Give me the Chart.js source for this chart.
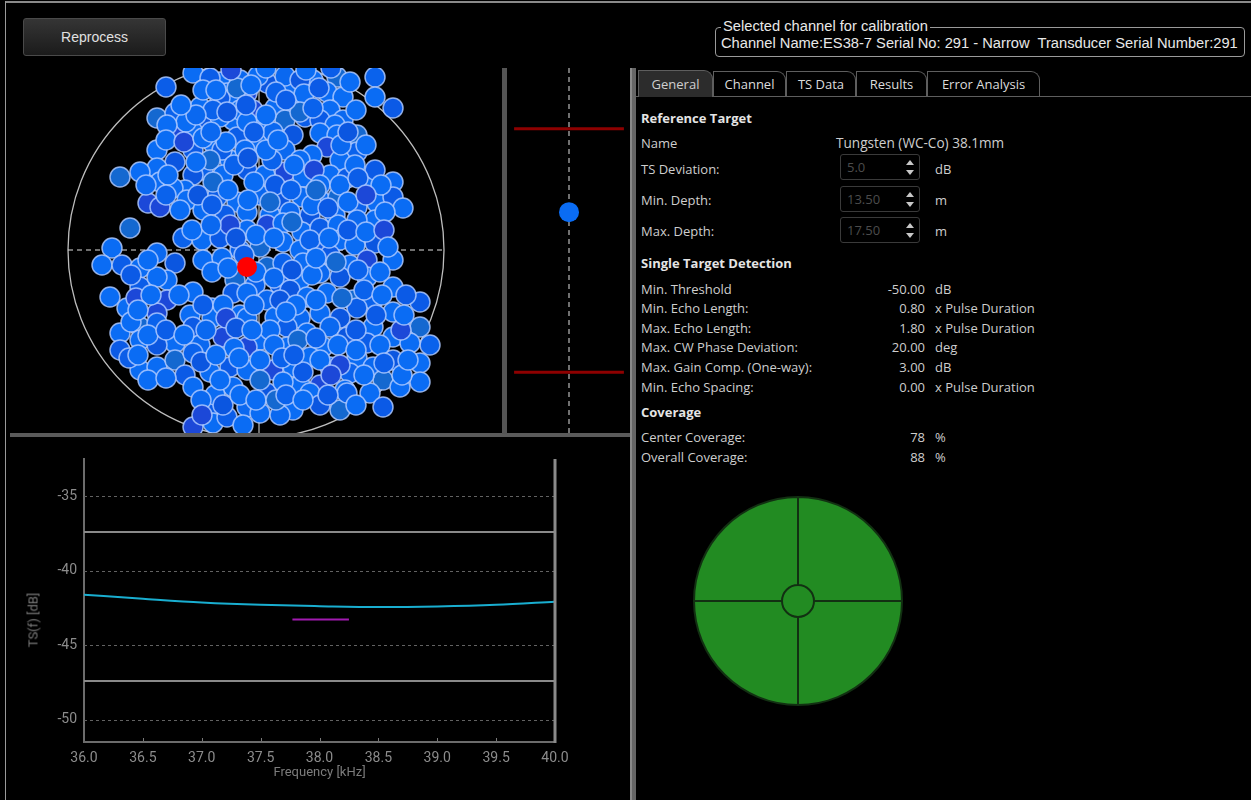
<!DOCTYPE html>
<html><head><meta charset="utf-8">
<script src="https://cdn.jsdelivr.net/npm/chart.js@4.4.1/dist/chart.umd.min.js"></script>
<style>
html,body{margin:0;padding:0;background:#000;}
body{width:1251px;height:800px;position:relative;overflow:hidden;font-family:"Open Sans",sans-serif;color:#d0d0d0;}
.abs{position:absolute;}
canvas{position:absolute;display:block;}
#topline{left:5px;top:1px;width:1246px;height:2px;background:#8a8a8a;}
#leftline{left:5px;top:1px;width:1px;height:799px;background:#9a9a9a;}
#btn{left:23px;top:18px;width:143px;height:38px;box-sizing:border-box;border:1px solid #4a4a4a;border-radius:3px;background:linear-gradient(#353535,#1b1b1b);color:#e0e0e0;font:14px "Liberation Sans",Arial,sans-serif;display:flex;align-items:center;justify-content:center;}
.bar{position:absolute;background:#5c5c5c;}
#grp{left:715px;top:27px;width:530px;height:30px;box-sizing:border-box;border:1px solid #9a9a9a;border-radius:4px;}
.gtxt{position:absolute;font:14.7px "Liberation Sans",Arial,sans-serif;color:#e8e8e8;white-space:pre;line-height:16px;}
.tab{position:absolute;top:71px;height:25px;box-sizing:border-box;border:1px solid #5e5e5e;border-bottom:none;border-radius:0 9px 0 0;font:13px "Open Sans",sans-serif;color:#dcdcdc;display:flex;align-items:center;justify-content:center;background:#000;}
.tab.sel{top:70px;height:27px;background:#2c2c2c;color:#cfcfcf;}
.t{position:absolute;font:13px "Open Sans",sans-serif;line-height:18px;white-space:nowrap;color:#cecece;}
.h{font-weight:bold;color:#e4e4e4;}
.val{right:326px;text-align:right;}
.unit{left:935px;}
.lbl{left:641px;}
.spin{position:absolute;left:840px;width:80px;height:26px;box-sizing:border-box;border:1px solid #3a3a3a;border-radius:3px;color:#4c4c4c;font:13px "Open Sans",sans-serif;line-height:24px;padding-left:6px;}
.up,.dn{position:absolute;left:65px;width:0;height:0;border-left:4px solid transparent;border-right:4px solid transparent;}
.up{top:5px;border-bottom:5px solid #c8c8c8;}
.dn{top:15px;border-top:5px solid #c8c8c8;}
#ytitle{left:33px;top:620px;transform:translate(-50%,-50%) rotate(-90deg);font:13px Roboto,sans-serif;color:#7a7a7a;white-space:nowrap;}
</style>
</head><body>

<div class="abs" id="topline"></div>
<div class="abs" id="leftline"></div>
<div class="abs" id="btn">Reprocess</div>

<!-- panel dividers -->
<div class="bar" style="left:10px;top:433px;width:622px;height:4px;background:#5a5a5a;"></div>
<div class="bar" style="left:502px;top:68px;width:5px;height:366px;background:#555;"></div>
<div class="bar" style="left:630px;top:68px;width:6px;height:732px;background:#666;"></div>
<div class="bar" style="left:630px;top:68px;width:2px;height:732px;background:#8a8a8a;"></div>

<!-- channel group box -->
<div class="abs" id="grp"></div>
<div class="gtxt" style="left:721px;top:18px;background:#000;padding:0 2px;">Selected channel for calibration</div>
<div class="gtxt" style="left:721px;top:35px;">Channel Name:ES38-7 Serial No: 291 - Narrow  Transducer Serial Number:291</div>

<!-- tabs -->
<div class="abs" style="left:636px;top:96px;width:615px;height:1px;background:#5e5e5e;"></div>
<div class="tab sel" style="left:638px;width:75px;">General</div>
<div class="tab" style="left:713px;width:73px;">Channel</div>
<div class="tab" style="left:786px;width:70px;">TS Data</div>
<div class="tab" style="left:856px;width:71px;">Results</div>
<div class="tab" style="left:927px;width:113px;">Error Analysis</div>

<!-- General tab content -->
<div class="t h lbl" style="top:109px;">Reference Target</div>
<div class="t lbl" style="top:134px;">Name</div>
<div class="t" style="left:836px;top:134px;font-size:13.6px;">Tungsten (WC-Co) 38.1mm</div>
<div class="t lbl" style="top:160px;">TS Deviation:</div>
<div class="spin" style="top:154px;">5.0<div class="up"></div><div class="dn"></div></div>
<div class="t unit" style="top:160px;">dB</div>
<div class="t lbl" style="top:191px;">Min. Depth:</div>
<div class="spin" style="top:186px;">13.50<div class="up"></div><div class="dn"></div></div>
<div class="t unit" style="top:191px;">m</div>
<div class="t lbl" style="top:222px;">Max. Depth:</div>
<div class="spin" style="top:217px;">17.50<div class="up"></div><div class="dn"></div></div>
<div class="t unit" style="top:222px;">m</div>

<div class="t h lbl" style="top:254px;">Single Target Detection</div>
<div class="t lbl" style="top:280px;">Min. Threshold</div><div class="t val" style="top:280px;">-50.00</div><div class="t unit" style="top:280px;">dB</div>
<div class="t lbl" style="top:299px;">Min. Echo Length:</div><div class="t val" style="top:299px;">0.80</div><div class="t unit" style="top:299px;">x Pulse Duration</div>
<div class="t lbl" style="top:319px;">Max. Echo Length:</div><div class="t val" style="top:319px;">1.80</div><div class="t unit" style="top:319px;">x Pulse Duration</div>
<div class="t lbl" style="top:338px;">Max. CW Phase Deviation:</div><div class="t val" style="top:338px;">20.00</div><div class="t unit" style="top:338px;">deg</div>
<div class="t lbl" style="top:358px;">Max. Gain Comp. (One-way):</div><div class="t val" style="top:358px;">3.00</div><div class="t unit" style="top:358px;">dB</div>
<div class="t lbl" style="top:378px;">Min. Echo Spacing:</div><div class="t val" style="top:378px;">0.00</div><div class="t unit" style="top:378px;">x Pulse Duration</div>

<div class="t h lbl" style="top:403px;">Coverage</div>
<div class="t lbl" style="top:428px;">Center Coverage:</div><div class="t val" style="top:428px;">78</div><div class="t unit" style="top:428px;">%</div>
<div class="t lbl" style="top:448px;">Overall Coverage:</div><div class="t val" style="top:448px;">88</div><div class="t unit" style="top:448px;">%</div>

<canvas id="scatter" width="490" height="365" style="left:10px;top:68px;"></canvas>
<canvas id="depth" width="122" height="365" style="left:508px;top:68px;"></canvas>
<canvas id="tsf" width="620" height="360" style="left:10px;top:440px;"></canvas>
<canvas id="cover" width="210" height="210" style="left:693px;top:496px;"></canvas>
<div class="abs" id="ytitle">TS(f) [dB]</div>

<script>
// ===================== DATA =====================
// TS(f) chart
const freqKHz   = [36.0, 36.5, 37.0, 37.5, 38.0, 38.5, 39.0, 39.5, 40.0];
const tsCurve   = [-41.61, -41.88, -42.13, -42.29, -42.38, -42.44, -42.40, -42.29, -42.08];
const measFreq  = [37.77, 38.25];
const measTS    = [-43.27, -43.27];
const tsLimits  = [-37.4, -47.4];           // theoretical TS ± TS deviation
const xTicks    = [36.0, 36.5, 37.0, 37.5, 38.0, 38.5, 39.0, 39.5, 40.0];
const yTicks    = [-35, -40, -45, -50];

// Beam position of detected targets (alongship / athwartship, arbitrary angle units)
const alongship = [
 -63,-90,-36,-16,11,37,57,81,119,119,137,-29,-9,71,87,-46,2,29,44,94,-26,
 -99,-81,-56,-36,-23,-3,19,37,49,74,87,-49,-36,6,29,-43,-16,64,79,
 -81,-63,-43,-19,1,17,37,64,81,101,101,-99,-63,-26,71,56,-11,-34,84,29,
 -81,-99,-116,-136,-53,-33,-9,9,29,47,74,91,111,137,-63,-96,-71,-46,16,44,119,99,
 -108,-83,-69,-39,-19,4,24,46,64,82,101,121,137,147,-96,-53,-9,-31,14,34,54,79,119,
 -126,-73,-54,-36,-9,11,27,46,64,82,101,119,84,27,4,-16,44,62,99,-26,
 -144,-154,-134,-116,-99,-81,-53,-34,11,27,47,74,94,111,137,-89,-116,-99,64,84,111,137,-21,-1,44,24,
 -146,-89,-63,-44,-23,-9,11,34,51,71,97,117,137,164,-129,-99,19,64,101,-16,44,84,-66,
 -136,-116,-99,-81,-63,-44,-33,-9,4,31,51,74,91,117,137,164,174,154,-136,-116,-9,31,67,111,14,-56,-99,
 -116,-99,-81,-63,-46,-26,-9,17,37,54,74,101,117,137,164,164,127,94,4,-71,44,64,89,
 -63,-46,-23,-9,11,37,54,84,91,114,127,144,-63,-43,4,-29,-13,24,64,-41,
 -53,-19,20,48,63,-40,-25,10,50,75,
 -70,-60,-29,-9,10,44,57,-89,-10,
 -90,-72,-53,-30,-2,10,85,92,110,
 -88,-43,-22,-2,19,38,58,64,84,102,125,-110,
 -58,-28,-8,14,35,56,72,92,110,129,-76,-44,
 -64,-45,-20,0,18,36,54,73,92,110,128,132,
 -44,-12,0,18,36,56,60,80,102,124,-125,-108,
 -120,-105,-77,-53,-33,-2,24,40,60,86,108,126,150,30,-30,
 -125,-108,-90,-72,-50,-20,-22,18,42,60,82,100,124,145,100,-4,
 -127,-108,-90,-55,-36,-17,4,26,27,47,64,84,108,146,128,152,
 -55,-33,-16,0,20,30,47,72,100,-54,
 -75,-5,30,100,-45,-8,22,-60,60,-90,-118,120,148,75,-118,-28,38,-40
];
const athwartship = [
 177,163,168,170,167,163,170,173,173,153,142,157,157,158,153,172,174,174,170,168,150,
 132,137,143,152,130,140,142,143,133,140,130,130,133,125,130,140,140,130,125,
 115,118,107,113,107,118,115,117,115,115,98,100,100,90,103,95,100,100,90,100,
 88,82,78,73,80,75,80,75,78,73,75,72,68,68,75,68,60,90,90,90,80,85,
 47,62,50,53,48,55,50,53,50,53,43,47,53,42,43,40,38,35,35,38,35,35,30,
 22,12,10,12,20,25,27,18,22,25,30,7,10,8,3,0,0,0,5,25,
 2,-15,-15,-18,-3,-13,-10,-8,-17,-13,-13,-5,-15,-10,-10,-30,-37,-27,-23,-27,-27,-37,-30,-35,-30,-35,
 -47,-50,-42,-58,-43,-43,-50,-40,-47,-43,-50,-50,-62,-52,-58,-63,-67,-63,-58,-65,-68,-68,-65,
 -83,-77,-73,-93,-77,-68,-87,-68,-90,-77,-83,-77,-87,-77,-87,-77,-95,-93,-100,-90,-97,-97,-97,-93,-80,-95,-95,
 -120,-117,-110,-103,-122,-117,-120,-120,-117,-107,-117,-108,-117,-110,-113,-132,-130,-123,-110,-125,-135,-135,-140,
 -137,-157,-137,-157,-143,-160,-143,-160,-143,-143,-157,-137,-177,-173,-163,-167,-175,-165,-155,-145,
 160,162,158,156,162,160,180,182,180,182,
 128,135,138,128,135,138,142,125,145,
 110,108,112,108,118,100,105,118,105,
 75,68,85,68,65,85,80,65,65,72,65,65,
 55,60,50,48,60,45,42,48,55,38,40,45,
 20,25,12,15,12,28,10,12,20,18,20,3,
 -22,-5,-22,-28,-20,-25,-8,-12,-20,-22,-25,-10,
 -48,-45,-45,-55,-55,-55,-50,-55,-50,-48,-40,-45,-45,-62,-68,
 -72,-85,-80,-85,-80,-78,-98,-95,-90,-88,-95,-80,-95,-80,-100,-80,
 -108,-130,-128,-112,-130,-108,-130,-108,-132,-122,-110,-115,-125,-125,-113,-110,
 -150,-155,-145,-150,-150,-145,-150,-145,-155,-165,
 145,165,150,140,118,92,110,88,60,55,-60,-65,-65,-125,-105,-18,-105,-105
];
const selectedAlong = [-9];
const selectedAthwart = [-17];
const beamEdge = 188;                         // beam circle radius, same units

// Depth panel
const depthLimits = [13.5, 17.5];
const targetDepth = [14.87];

// Coverage
const quadrantNames = ['Fore-Stbd', 'Aft-Stbd', 'Aft-Port', 'Fore-Port'];
const quadrantShare = [25, 25, 25, 25];
const centerShare = [100];

// ===================== CHARTS =====================
const base = {responsive:false, animation:false, events:[],
  plugins:{legend:{display:false}, tooltip:{enabled:false}}};

// --- beam scatter ---
const bubblePalette = ['#0a6cf4','#0b5de8','#0a6cf4','#0a68f0','#0b56e0','#0a6cf4','#0a6cf4','#1468d0',
                       '#0a62ec','#0a6cf4','#0b5ae6','#0a6cf4','#1c48d8','#0a6cf4'];
const beamPlugin = {
  id:'beam',
  beforeDatasetsDraw(chart){
    const {ctx, scales:{x, y}, chartArea:a} = chart;
    const cx = x.getPixelForValue(0), cy = y.getPixelForValue(0);
    const r = x.getPixelForValue(beamEdge) - cx;
    ctx.save();
    ctx.strokeStyle = '#bdbdbd'; ctx.lineWidth = 1.3;
    ctx.beginPath(); ctx.arc(cx, cy, r, 0, Math.PI*2); ctx.stroke();
    ctx.strokeStyle = '#e0e0e0'; ctx.lineWidth = 1;
    ctx.setLineDash([5,4]);
    ctx.beginPath(); ctx.moveTo(cx - r, cy); ctx.lineTo(cx + r, cy); ctx.stroke();
    ctx.setLineDash([]);
    ctx.beginPath(); ctx.moveTo(cx + 3, a.top); ctx.lineTo(cx + 3, a.bottom); ctx.stroke();
    ctx.restore();
  }
};
new Chart(document.getElementById('scatter'), {
  type:'scatter',
  data:{datasets:[
    {data: selectedAlong.map((v,i)=>({x:v, y:selectedAthwart[i]})),
     pointRadius:10, pointBackgroundColor:'#ff0000', pointBorderWidth:0},
    {data: alongship.map((v,i)=>({x:v, y:athwartship[i]})),
     pointRadius:10, pointBorderWidth:1.5, pointBorderColor:'rgba(172,200,255,0.85)',
     pointBackgroundColor: c => bubblePalette[c.dataIndex % bubblePalette.length]}
  ]},
  options:{...base, layout:{padding:0, autoPadding:false},
    scales:{x:{type:'linear', display:false, min:-246, max:244},
            y:{type:'linear', display:false, min:-183, max:182}}},
  plugins:[beamPlugin]
});

// --- depth panel ---
const depthPlugin = {
  id:'depthLines',
  beforeDatasetsDraw(chart){
    const {ctx, scales:{x, y}, chartArea:a} = chart;
    const cx = x.getPixelForValue(0);
    ctx.save();
    ctx.strokeStyle = '#e0e0e0'; ctx.lineWidth = 1; ctx.setLineDash([5,4]);
    ctx.beginPath(); ctx.moveTo(cx, a.top); ctx.lineTo(cx, a.bottom); ctx.stroke();
    ctx.setLineDash([]);
    ctx.strokeStyle = '#8e0000'; ctx.lineWidth = 3;
    depthLimits.forEach(d => {
      const py = y.getPixelForValue(d);
      ctx.beginPath(); ctx.moveTo(x.getPixelForValue(-0.9), py); ctx.lineTo(x.getPixelForValue(0.9), py); ctx.stroke();
    });
    ctx.restore();
  }
};
new Chart(document.getElementById('depth'), {
  type:'scatter',
  data:{datasets:[{data: targetDepth.map(d=>({x:0, y:d})), pointRadius:10,
    pointBackgroundColor:'#0a6cf4', pointBorderWidth:0}]},
  options:{...base, layout:{padding:0, autoPadding:false},
    scales:{x:{type:'linear', display:false, min:-1, max:1},
            y:{type:'linear', display:false, min:12.5, max:18.5, reverse:true}}},
  plugins:[depthPlugin]
});

// --- TS(f) chart ---
const tsPlugin = {
  id:'tsGrid',
  beforeDatasetsDraw(chart){
    const {ctx, scales:{x, y}, chartArea:a} = chart;
    ctx.save();
    ctx.strokeStyle = '#626262'; ctx.lineWidth = 1; ctx.setLineDash([3,3]);
    yTicks.forEach(v => {
      const py = Math.round(y.getPixelForValue(v)) + 0.5;
      ctx.beginPath(); ctx.moveTo(a.left, py); ctx.lineTo(a.right, py); ctx.stroke();
    });
    ctx.setLineDash([]);
    ctx.strokeStyle = '#7a7a7a'; ctx.lineWidth = 1;
    xTicks.slice(1, -1).forEach(v => {
      const px = Math.round(x.getPixelForValue(v)) + 0.5;
      ctx.beginPath(); ctx.moveTo(px, a.bottom - 1); ctx.lineTo(px, a.bottom - 4); ctx.stroke();
    });
    ctx.restore();
  },
  afterDraw(chart){
    const {ctx, chartArea:a} = chart;
    ctx.save();
    ctx.strokeStyle = '#8a8a8a'; ctx.lineWidth = 3;
    ctx.beginPath(); ctx.moveTo(a.right, a.top); ctx.lineTo(a.right, a.bottom + 1); ctx.stroke();
    ctx.restore();
  }
};
const tickFont = {family:'Roboto', size:14};
new Chart(document.getElementById('tsf'), {
  type:'line',
  data:{datasets:[
    {data: freqKHz.map((f,i)=>({x:f, y:tsCurve[i]})), borderColor:'#19aed0', borderWidth:2,
     pointRadius:0, cubicInterpolationMode:'monotone'},
    {data: measFreq.map((f,i)=>({x:f, y:measTS[i]})), borderColor:'#a11ab0', borderWidth:2, pointRadius:0},
    {data: [{x:freqKHz[0], y:tsLimits[0]}, {x:freqKHz[freqKHz.length-1], y:tsLimits[0]}],
     borderColor:'#8a8a8a', borderWidth:2, pointRadius:0},
    {data: [{x:freqKHz[0], y:tsLimits[1]}, {x:freqKHz[freqKHz.length-1], y:tsLimits[1]}],
     borderColor:'#8a8a8a', borderWidth:2, pointRadius:0}
  ]},
  options:{...base,
    layout:{padding:{left:0, right:75, top:19, bottom:0}, autoPadding:false},
    scales:{
      x:{type:'linear', min:36, max:40,
         afterBuildTicks: s => { s.ticks = xTicks.map(v=>({value:v})); },
         ticks:{color:'#8c8c8c', font:tickFont, padding:8, maxRotation:0, autoSkip:false,
                callback: v => Number(v).toFixed(1)},
         grid:{display:false, drawTicks:false},
         border:{display:true, color:'#6c6c6c', width:2},
         title:{display:true, text:'Frequency [kHz]', color:'#7c7c7c',
                font:{family:'Roboto', size:13}, padding:{top:0, bottom:19}},
         afterFit: s => { s.height = 58; }},
      y:{type:'linear', min:-51.5, max:-32.5,
         afterBuildTicks: s => { s.ticks = yTicks.map(v=>({value:v})); },
         ticks:{color:'#8c8c8c', font:tickFont, padding:7},
         grid:{display:false, drawTicks:false},
         border:{display:true, color:'#6c6c6c', width:2},
         afterFit: s => { s.width = 74; }}
    }},
  plugins:[tsPlugin]
});

// --- coverage ---
new Chart(document.getElementById('cover'), {
  type:'doughnut',
  data:{labels: quadrantNames, datasets:[
    {data: quadrantShare, backgroundColor:'#228b22', borderColor:'#123012', borderWidth:2, weight:88},
    {data: centerShare, backgroundColor:'#228b22', borderWidth:0, weight:16}
  ]},
  options:{...base, cutout:0, layout:{padding:0}}
});
</script>
</body></html>
